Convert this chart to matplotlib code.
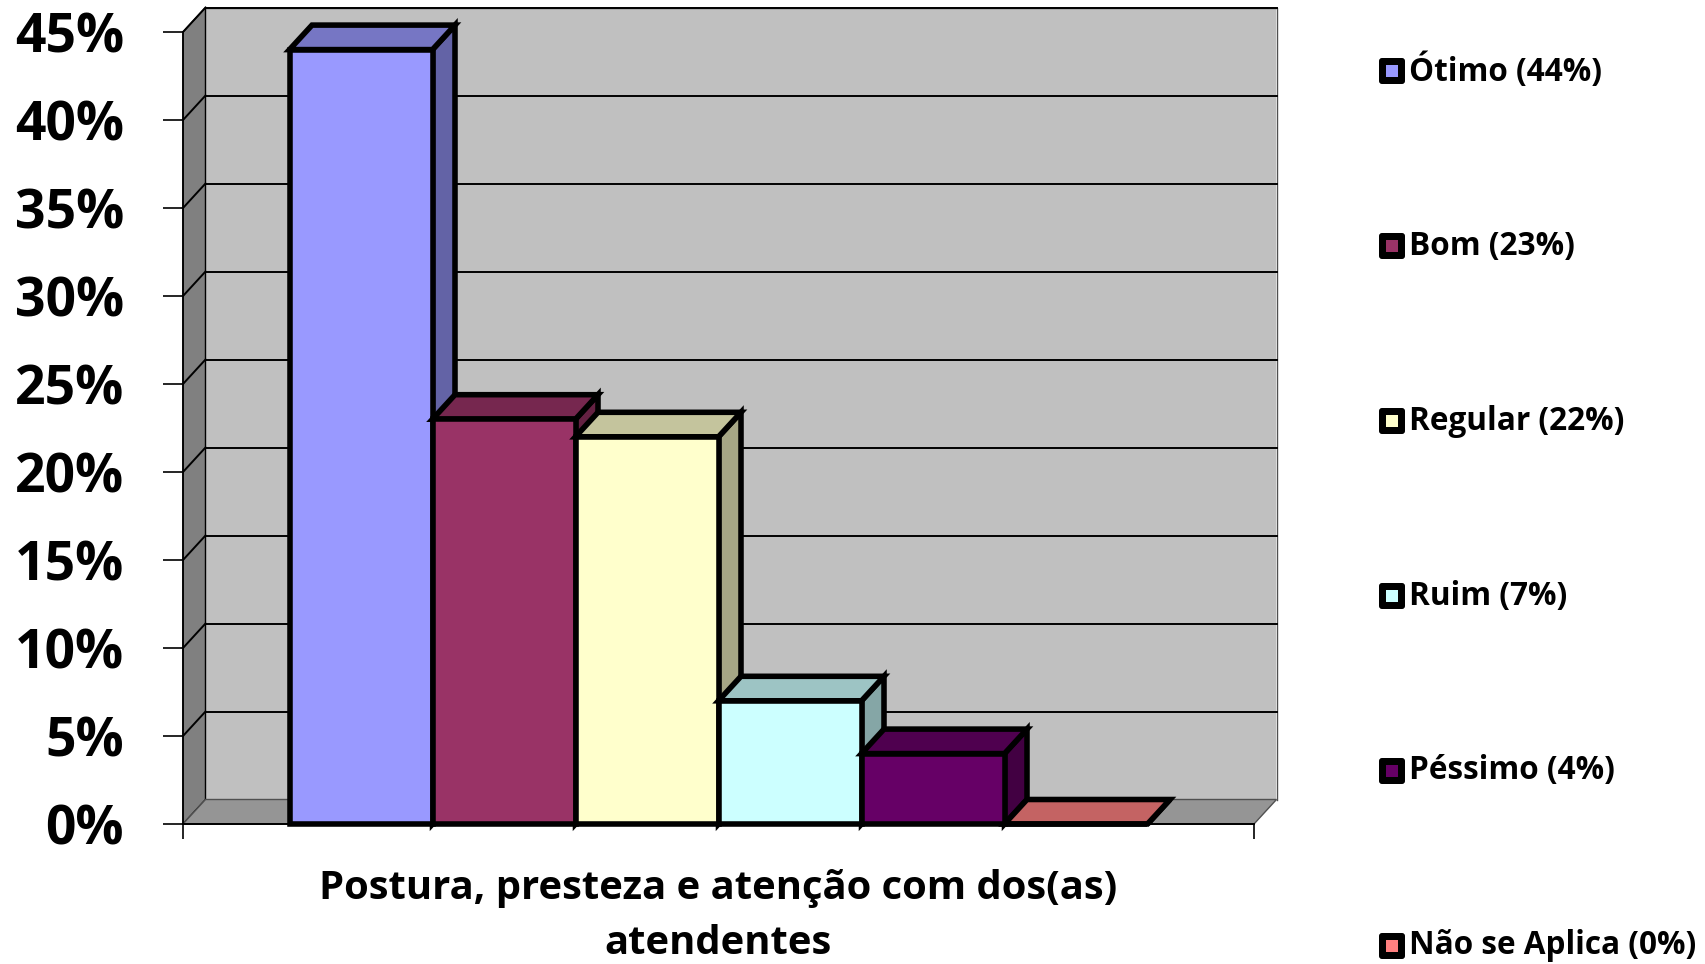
import matplotlib
matplotlib.use("Agg")
import matplotlib.pyplot as plt
from matplotlib.patches import Rectangle, Polygon, FancyBboxPatch
from matplotlib.colors import to_rgb
from matplotlib.transforms import Affine2D

plt.rcParams['font.family'] = ['Open Sans', 'DejaVu Sans']
plt.rcParams['font.weight'] = 'bold'

# ---- data ----
categories = ["Ótimo", "Bom", "Regular", "Ruim", "Péssimo", "Não se Aplica"]
values = [44, 23, 22, 7, 4, 0]
colors = ['#9999FF', '#993366', '#FFFFCC', '#CCFFFF', '#660066', '#FF8080']
yticks = [0, 5, 10, 15, 20, 25, 30, 35, 40, 45]
xlabel_lines = ["Postura, presteza e atenção com dos(as)", "atendentes"]

W_PX, H_PX = 1705, 964
fig = plt.figure(figsize=(W_PX / 100, H_PX / 100), dpi=100)
# pixel transform (origin top-left)
pix = Affine2D().scale(1 / W_PX, -1 / H_PX).translate(0, 1) + fig.transFigure

# axes front plane in pixels
x_left, x_right = 183, 1254
y_bot, y_top = 824, 32
ax = fig.add_axes([x_left / W_PX, 1 - y_bot / H_PX,
                   (x_right - x_left) / W_PX, (y_bot - y_top) / H_PX])
ax.set_xlim(0, 1)
ax.set_ylim(0, 45)

# depth offsets in data units
DX = 22.5 / (x_right - x_left)
DY = 24.5 / ((y_bot - y_top) / 45)

def shade(c, f):
    r, g, b = to_rgb(c)
    return (r * f, g * f, b * f)

# walls & floor
ax.add_patch(Rectangle((DX, DY), 1, 45, facecolor='#C0C0C0', edgecolor='none',
                       clip_on=False, zorder=0))
ax.plot([DX, 1 + DX, 1 + DX], [45 + DY, 45 + DY, DY], color='#505050', lw=1,
        clip_on=False, zorder=0.5)
ax.add_patch(Polygon([(0, 0), (DX, DY), (DX, 45 + DY), (0, 45)], closed=True,
                     facecolor='#808080', edgecolor='black', lw=1, clip_on=False, zorder=0))
ax.add_patch(Polygon([(0, 0), (1, 0), (1 + DX, DY), (DX, DY)], closed=True,
                     facecolor='#959595', edgecolor='#505050', lw=1, clip_on=False, zorder=0))
ax.plot([0, 1], [0, 0], color='black', lw=1.2, clip_on=False, zorder=0.6)
for v in yticks[1:]:
    ax.plot([DX, 1 + DX], [v + DY, v + DY], color='black', lw=1.4, clip_on=False, zorder=1)
    ax.plot([0, DX], [v, v + DY], color='black', lw=1.4, clip_on=False, zorder=1)

# bars
BW = 143 / (x_right - x_left)
n = len(values)
LW = 4.0
for i, (v, c) in enumerate(zip(values, colors)):
    x0 = 0.5 + (i - n / 2) * BW
    z = 3 + i
    side = [(x0 + BW, 0), (x0 + BW + DX, DY), (x0 + BW + DX, v + DY), (x0 + BW, v)]
    top = [(x0, v), (x0 + DX, v + DY), (x0 + BW + DX, v + DY), (x0 + BW, v)]
    ax.add_patch(Polygon(side, closed=True, facecolor=shade(c, 0.65), edgecolor='black',
                         lw=LW, clip_on=False, zorder=z, joinstyle='miter'))
    ax.add_patch(Polygon(top, closed=True, facecolor=shade(c, 0.77), edgecolor='black',
                         lw=LW, clip_on=False, zorder=z, joinstyle='miter'))
    ax.add_patch(Rectangle((x0, 0), BW, v, facecolor=c, edgecolor='black',
                           lw=LW, clip_on=False, zorder=z, joinstyle='miter'))

# axes styling
for s in ['top', 'right']:
    ax.spines[s].set_visible(False)
ax.spines['left'].set_linewidth(1.2)
ax.spines['bottom'].set_linewidth(1.2)
ax.spines['left'].set_zorder(2)
ax.set_facecolor('none')
ax.set_yticks(yticks)
ax.set_yticklabels([f"{v}%" for v in yticks], fontsize=38.5, fontweight='bold')
ax.tick_params(axis='y', direction='out', length=14.5, width=1.2, pad=28)
ax.set_xticks([0, 1])
ax.set_xticklabels(['', ''])
ax.tick_params(axis='x', direction='out', length=11, width=1.2)

# x label
fig.text(718 / W_PX, 1 - 888 / H_PX, xlabel_lines[0], ha='center', va='center',
         fontsize=28.8, fontweight='bold')
fig.text(718 / W_PX, 1 - 944 / H_PX, xlabel_lines[1], ha='center', va='center',
         fontsize=28.8, fontweight='bold')

# legend
leg_y0, leg_dy = 71, 175
for i, (cat, v, c) in enumerate(zip(categories, values, colors)):
    yc = leg_y0 + i * leg_dy
    s = 20
    fig.patches.append(FancyBboxPatch((1392 - s / 2, yc - s / 2), s, s,
                                      boxstyle="round,pad=3,rounding_size=3",
                                      facecolor='black', edgecolor='none',
                                      transform=pix))
    si = 12
    fig.patches.append(Rectangle((1392 - si / 2, yc - si / 2), si, si, facecolor=c,
                                 edgecolor='none', transform=pix, zorder=5))
    fig.text(1409 / W_PX, 1 - yc / H_PX, f"{cat} ({v}%)", ha='left', va='center',
             fontsize=22.7, fontweight='bold')

fig.savefig("out.png", dpi=100)
